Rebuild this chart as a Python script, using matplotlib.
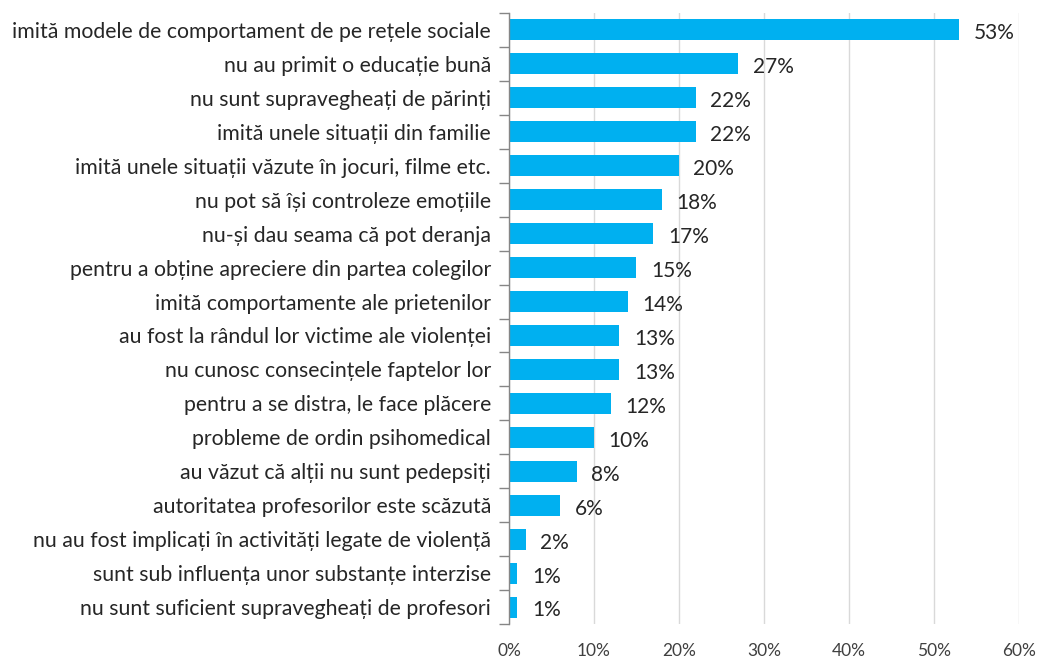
import matplotlib
matplotlib.use("Agg")
import matplotlib.pyplot as plt
from matplotlib.ticker import FixedLocator

categories = [
    "imită modele de comportament de pe rețele sociale",
    "nu au primit o educație bună",
    "nu sunt supravegheați de părinți",
    "imită unele situații din familie",
    "imită unele situații văzute în jocuri, filme etc.",
    "nu pot să își controleze emoțiile",
    "nu-și dau seama că pot deranja",
    "pentru a obține apreciere din partea colegilor",
    "imită comportamente ale prietenilor",
    "au fost la rândul lor victime ale violenței",
    "nu cunosc consecințele faptelor lor",
    "pentru a se distra, le face plăcere",
    "probleme de ordin psihomedical",
    "au văzut că alții nu sunt pedepsiți",
    "autoritatea profesorilor este scăzută",
    "nu au fost implicați în activități legate de violență",
    "sunt sub influența unor substanțe interzise",
    "nu sunt suficient supravegheați de profesori",
]
values = [53, 27, 22, 22, 20, 18, 17, 15, 14, 13, 13, 12, 10, 8, 6, 2, 1, 1]
xticks = [0, 10, 20, 30, 40, 50, 60]
xticklabels = ["0%", "10%", "20%", "30%", "40%", "50%", "60%"]

plt.rcParams['font.family'] = ['Lato', 'DejaVu Sans']
fig = plt.figure(figsize=(10.4, 6.6), dpi=100)
ax = fig.add_axes([0.4894, 0.0545, 0.4904, 0.9258])

n = len(categories)
ypos = list(range(n))
color = "#00B0F0"
ax.barh(ypos, values, height=0.62, color=color, zorder=3)
ax.set_ylim(n - 0.5, -0.5)
ax.set_xlim(0, 60)

ax.set_xticks(xticks)
ax.set_xticklabels(xticklabels, fontsize=12.5, color="#404040")
ax.set_yticks(ypos)
ax.set_yticklabels(categories, fontsize=15.3, color="#262626")
ax.tick_params(axis='y', length=0, pad=13)
ax.tick_params(axis='x', length=0, pad=14)

# boundary tick marks on y axis
ax.yaxis.set_minor_locator(FixedLocator([i - 0.5 for i in range(n + 1)]))
ax.tick_params(axis='y', which='minor', length=7, width=1, color="#868686", direction='out')

ax.grid(axis='x', color="#D9D9D9", linewidth=1, zorder=0)
for s in ['top', 'right', 'bottom']:
    ax.spines[s].set_visible(False)
ax.spines['left'].set_color("#868686")
ax.spines['left'].set_linewidth(1)
ax.spines['left'].set_zorder(4)

for y, v in zip(ypos, values):
    ax.text(v + 1.7, y + 0.1, f"{v}%", va='center', ha='left', fontsize=15, color="#262626")

fig.savefig("out.png", dpi=100)
